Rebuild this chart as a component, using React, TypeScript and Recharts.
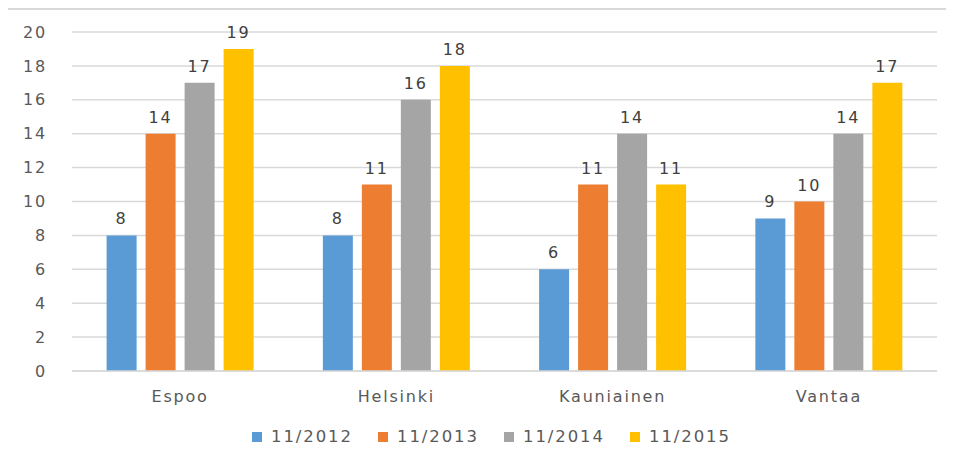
import { BarChart, Bar, XAxis, YAxis, CartesianGrid, Legend, LabelList } from "recharts";

const CITIES = ["Espoo", "Helsinki", "Kauniainen", "Vantaa"];
const SERIES = ["11/2012", "11/2013", "11/2014", "11/2015"];
const COLORS = ["#5B9BD5", "#ED7D31", "#A5A5A5", "#FFC000"];
const V2012 = [8, 8, 6, 9];
const V2013 = [14, 11, 11, 10];
const V2014 = [17, 16, 14, 14];
const V2015 = [19, 18, 11, 17];
const Y_TICKS = [0, 2, 4, 6, 8, 10, 12, 14, 16, 18, 20];

const VALUES = [V2012, V2013, V2014, V2015];
const data = CITIES.map((city, i) => {
  const row: Record<string, string | number> = { city };
  SERIES.forEach((s, j) => {
    row[s] = VALUES[j][i];
  });
  return row;
});

const FONT = "'DejaVu Sans', sans-serif";
const textStyle = { fontFamily: FONT, fontSize: 16, fill: "#595959", letterSpacing: 1.8 };

function LegendRow() {
  return (
    <div style={{ display: "flex", justifyContent: "flex-start", paddingTop: 16, paddingLeft: 252 }}>
      {SERIES.map((s, i) => (
        <div key={s} style={{ display: "flex", alignItems: "center", width: 126 }}>
          <span style={{ width: 10, height: 10, background: COLORS[i], marginRight: 9 }} />
          <span style={{ fontFamily: FONT, fontSize: 16.5, color: "#595959", letterSpacing: 1.9 }}>{s}</span>
        </div>
      ))}
    </div>
  );
}

export default function App() {
  return (
    <div style={{ position: "relative", margin: -8, width: 954, height: 465, background: "#fff" }}>
      <div
        style={{
          position: "absolute",
          left: 6,
          top: 8,
          right: 0,
          bottom: 0,
          borderLeft: "2px solid #d9d9d9",
          borderTop: "2px solid #d9d9d9",
        }}
      />
      <BarChart
        width={954}
        height={465}
        data={data}
        margin={{ top: 32, right: 17, left: 0, bottom: 14 }}
        barCategoryGap="16%"
        barGap={9}
        style={{ position: "relative" }}
      >
        <CartesianGrid vertical={false} stroke="#d9d9d9" strokeWidth={1.5} />
        <XAxis
          dataKey="city"
          height={40}
          tickLine={false}
          tickSize={0}
          tickMargin={20}
          axisLine={{ stroke: "#d9d9d9", strokeWidth: 1.5 }}
          tick={textStyle}
        />
        <YAxis
          width={72}
          domain={[0, 20]}
          ticks={Y_TICKS}
          interval={0}
          axisLine={false}
          tickLine={false}
          tickSize={0}
          tickMargin={25}
          tick={textStyle}
        />
        <Legend verticalAlign="bottom" height={40} content={() => <LegendRow />} />
        {SERIES.map((s, i) => (
          <Bar key={s} dataKey={s} fill={COLORS[i]} isAnimationActive={false}>
            <LabelList
              dataKey={s}
              position="top"
              offset={11}
              style={{ fontFamily: FONT, fontSize: 16, fill: "#404040", letterSpacing: 1.8 }}
            />
          </Bar>
        ))}
      </BarChart>
    </div>
  );
}
